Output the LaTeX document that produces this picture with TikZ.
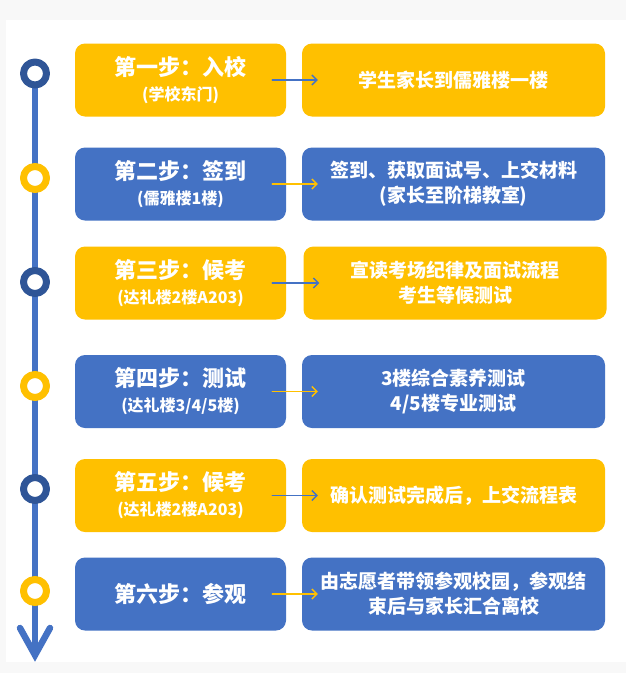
\documentclass[tikz,border=0pt]{standalone}
\usepackage{fontspec}
\newfontfamily\cjk{Noto Sans CJK SC}
\usetikzlibrary{arrows.meta}
\definecolor{stepyellow}{HTML}{FFC000}
\definecolor{stepblue}{HTML}{4472C4}
\definecolor{ringnavy}{HTML}{2F5597}
\definecolor{pagegrey}{HTML}{F8F8F8}
\newcommand{\steptitle}[2]{{\fontsize{22}{25}\selectfont #1}\\#2}
\begin{document}
\begin{tikzpicture}[x=1pt, y=-1pt, line join=round, line cap=round, font=\cjk\bfseries, >={Straight Barb[length=5pt,width=10pt]}]
\tikzset{
	leftbox/.style={rounded corners=10pt, minimum width=211pt, minimum height=73pt, inner sep=0pt, align=center, text=white, font=\cjk\bfseries\fontsize{16}{25}\selectfont},
	rightbox/.style={leftbox, minimum width=303pt, font=\cjk\bfseries\fontsize{19}{25}\selectfont},
	ring/.style={draw=#1, line width=7pt, fill=white},
	link/.style={->, line width=1.4pt, draw=#1}
}
\useasboundingbox (0,0) rectangle (626,673);
\fill[pagegrey] (0,0) rectangle (626,673);
\fill[white] (6,20) rectangle (626,662);

\path (35,73.5)coordinate(C1) (35,178)coordinate(C2) (35,282)coordinate(C3) (35,386)coordinate(C4) (35,489)coordinate(C5) (35,591)coordinate(C6) (35,655)coordinate(tip);

% time line
\draw[line width=6.5pt, stepblue] (C1)--(tip);
\draw[line width=6.5pt, stepblue, line join=miter] (20,628)--(tip)--(50,628);

% steps
\node[leftbox, fill=stepyellow] (L1) at (180.5,80) {\steptitle{第一步：入校}{(学校东门)}};
\node[rightbox, fill=stepyellow] (R1) at (453.5,80) {学生家长到儒雅楼一楼};
\node[leftbox, fill=stepblue] (L2) at (180.5,184) {\steptitle{第二步：签到}{(儒雅楼1楼)}};
\node[rightbox, fill=stepblue] (R2) at (453.5,184) {签到、获取面试号、上交材料\\(家长至阶梯教室)};
\node[leftbox, fill=stepyellow] (L3) at (180.5,283) {\steptitle{第三步：候考}{(达礼楼2楼A203)}};
\node[rightbox, fill=stepyellow] (R3) at (455,283) {宣读考场纪律及面试流程\\考生等候测试};
\node[leftbox, fill=stepblue] (L4) at (180.5,391.5) {\steptitle{第四步：测试}{(达礼楼3/4/5楼)}};
\node[rightbox, fill=stepblue] (R4) at (453.5,391.5) {3楼综合素养测试\\4/5楼专业测试};
\node[leftbox, fill=stepyellow] (L5) at (180.5,495.5) {\steptitle{第五步：候考}{(达礼楼2楼A203)}};
\node[rightbox, fill=stepyellow] (R5) at (453.5,495.5) {确认测试完成后，上交流程表};
\node[leftbox, fill=stepblue, font=\cjk\bfseries\fontsize{22}{27}\selectfont] (L6) at (180.5,594) {第六步：参观};
\node[rightbox, fill=stepblue] (R6) at (453.5,594) {由志愿者带领参观校园，参观结\\束后与家长汇合离校};

\draw[link=stepblue] ([xshift=-14pt]L1.east)--([xshift=16pt]R1.west);
\draw[link=stepyellow] ([xshift=-14pt]L2.east)--([xshift=16pt]R2.west);
\draw[link=stepblue] ([xshift=-14pt]L3.east)--([xshift=16pt]R3.west);
\draw[link=stepyellow] ([xshift=-14pt]L4.east)--([xshift=16pt]R4.west);
\draw[link=stepblue] ([xshift=-14pt]L5.east)--([xshift=16pt]R5.west);
\draw[link=stepyellow] ([xshift=-14pt]L6.east)--([xshift=16pt]R6.west);

\draw[ring=ringnavy] (C1) circle (11.5pt);
\draw[ring=stepyellow] (C2) circle (11.5pt);
\draw[ring=ringnavy] (C3) circle (11.5pt);
\draw[ring=stepyellow] (C4) circle (11.5pt);
\draw[ring=ringnavy] (C5) circle (11.5pt);
\draw[ring=stepyellow] (C6) circle (11.5pt);
\end{tikzpicture}
\end{document}
